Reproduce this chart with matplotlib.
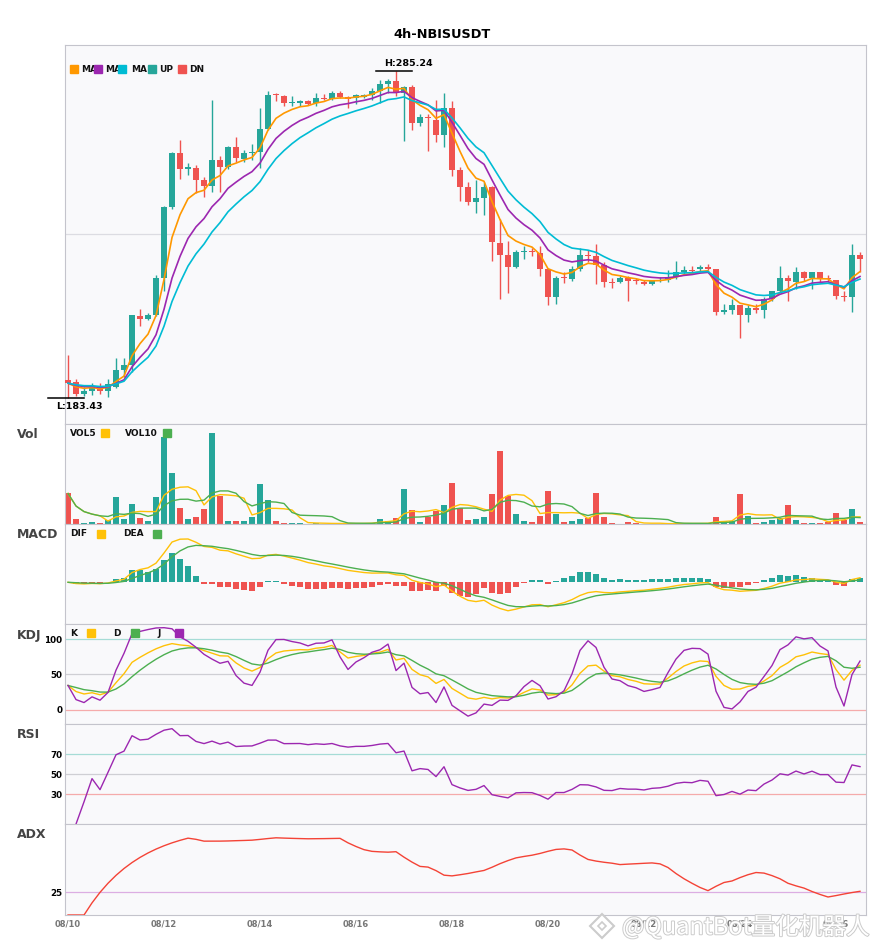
import numpy as np
import pandas as pd
import matplotlib
matplotlib.use('Agg')
import matplotlib.pyplot as plt
from matplotlib.patches import Rectangle
from matplotlib import patheffects

# 4h candles, 08/10 00:00 -> 08/26 12:00
dates = pd.date_range('2025-08-10 00:00', periods=100, freq='4h')

opens = [188.9, 188.3, 184.6, 185.5, 187.1, 185.5, 186.8, 192.1, 193.6, 208.9,
         207.9, 209.2, 220.7, 242.8, 259.6, 254.9, 255.2, 251.2, 249.6, 257.7,
         255.5, 261.7, 258.0, 259.6, 259.9, 267.3, 278.2, 277.6, 275.4, 275.4,
         275.8, 275.4, 277.0, 276.7, 278.5, 277.3, 277.0, 277.3, 277.9, 279.2,
         281.3, 282.3, 278.5, 280.4, 269.2, 271.1, 270.1, 265.2, 273.9, 254.3,
         249.0, 244.6, 245.6, 249.0, 231.6, 227.8, 224.1, 228.8, 229.1, 228.5,
         223.5, 214.8, 221.0, 220.4, 223.5, 227.8, 227.5, 224.7, 219.5, 219.5,
         220.7, 220.1, 219.5, 218.8, 219.8, 220.1, 221.0, 222.6, 223.2, 223.5,
         224.1, 223.5, 210.1, 210.7, 212.3, 209.2, 211.35, 210.7, 214.2, 216.6,
         220.7, 219.5, 222.6, 220.7, 222.6, 220.5, 220.1, 215.1, 214.8, 227.8]
highs = [196.7, 189.3, 186.8, 188.0, 188.0, 189.3, 195.8, 195.8, 209.4, 211.0,
         209.8, 221.6, 243.1, 259.9, 263.9, 256.5, 255.9, 252.1, 276.4, 258.9,
         261.9, 264.6, 260.8, 262.4, 273.6, 278.9, 278.5, 277.8, 277.6, 276.1,
         276.1, 278.5, 278.2, 278.9, 278.9, 277.6, 278.1, 278.0, 280.1, 282.6,
         282.9, 285.24, 280.7, 281.0, 272.0, 272.0, 276.1, 278.5, 275.8, 255.5,
         250.6, 251.2, 250.6, 249.3, 239.3, 232.2, 229.4, 230.6, 230.0, 230.6,
         223.6, 221.3, 222.6, 224.4, 230.0, 229.4, 231.3, 225.7, 220.7, 221.3,
         221.3, 220.7, 220.1, 220.1, 221.0, 223.2, 226.0, 224.4, 224.4, 224.7,
         225.0, 223.6, 212.6, 214.2, 212.4, 212.3, 212.6, 214.8, 216.8, 224.4,
         221.7, 224.1, 222.9, 222.8, 222.8, 221.6, 220.2, 216.6, 231.3, 228.8]
lows = [183.43, 184.0, 184.0, 184.3, 184.6, 183.7, 186.5, 189.9, 191.4, 205.7,
        207.6, 209.0, 216.6, 242.2, 251.5, 253.0, 247.4, 245.9, 247.7, 247.7,
        254.6, 256.8, 256.8, 257.7, 255.2, 267.0, 275.8, 274.5, 274.5, 274.5,
        274.8, 274.5, 276.1, 276.1, 277.0, 273.9, 275.1, 277.0, 276.1, 275.4,
        278.5, 277.6, 263.6, 267.0, 268.3, 260.5, 263.3, 261.7, 252.7, 244.9,
        243.4, 240.9, 240.3, 226.0, 214.2, 216.0, 223.8, 226.6, 227.5, 221.3,
        212.3, 212.6, 219.1, 219.8, 222.9, 225.7, 218.8, 217.9, 217.6, 219.1,
        213.5, 218.8, 218.5, 218.5, 219.5, 219.5, 220.4, 222.0, 222.6, 222.6,
        223.2, 209.2, 209.5, 209.5, 202.0, 207.0, 209.8, 208.2, 213.5, 216.3,
        213.6, 217.3, 219.8, 217.3, 219.5, 219.5, 214.2, 213.5, 210.1, 222.6]
closes = [188.0, 184.6, 185.5, 187.1, 185.5, 187.7, 192.1, 193.6, 209.2, 207.9,
          209.2, 220.7, 242.8, 259.6, 254.6, 255.5, 251.2, 249.6, 257.7, 255.5,
          261.7, 258.3, 259.6, 259.9, 267.3, 277.9, 277.9, 275.4, 275.6, 275.8,
          275.1, 277.0, 276.7, 278.5, 277.3, 276.7, 277.9, 277.9, 279.2, 281.3,
          282.3, 278.5, 280.4, 269.2, 271.1, 270.5, 265.2, 273.9, 254.3, 249.0,
          244.6, 245.6, 249.0, 231.9, 227.8, 224.1, 228.8, 229.1, 228.8, 223.5,
          214.8, 220.7, 220.7, 223.5, 227.8, 227.5, 224.7, 219.5, 219.1, 220.7,
          219.8, 219.8, 218.8, 219.8, 220.1, 221.0, 222.6, 223.2, 222.9, 224.1,
          223.5, 210.1, 210.7, 212.3, 209.2, 211.35, 210.7, 214.2, 216.6, 220.7,
          219.8, 222.6, 220.7, 222.6, 220.4, 220.4, 215.1, 214.8, 227.8, 226.6]
volume = [91, 16, 4, 7, 4, 13, 79, 16, 61, 19,
          10, 79, 259, 151, 49, 16, 22, 46, 271, 83,
          10, 10, 10, 22, 118, 73, 10, 4, 4, 2,
          1, 4, 1, 1, 1, 1, 4, 2, 4, 16,
          10, 19, 103, 43, 7, 22, 40, 58, 121, 49,
          13, 16, 22, 88, 217, 83, 31, 10, 7, 25,
          97, 31, 7, 10, 16, 18, 91, 22, 4, 1,
          7, 2, 1, 1, 1, 1, 1, 4, 1, 1,
          4, 22, 10, 10, 88, 25, 4, 7, 13, 19,
          58, 13, 4, 4, 4, 7, 34, 13, 46, 7]

UP = '#26A69A'
DN = '#EF5350'
C_MA1, C_MA2, C_MA3 = '#FF9800', '#9C27B0', '#00BCD4'
C_Y, C_G, C_P = '#FFC107', '#4CAF50', '#9C27B0'
SPINE = '#c4c4cc'
FACE = '#f9f9fb'

df = pd.DataFrame({'open': opens, 'high': highs, 'low': lows,
                   'close': closes, 'vol': volume}, index=dates)
n = len(df)
x = np.arange(n)
up = (df.close >= df.open).values
cols = np.where(up, UP, DN)

def ema(s, span):
    return s.ewm(span=span, adjust=False).mean()

# ---- indicators
ma1 = ema(df.close, 5)
ma2 = ema(df.close, 9)
ma3 = ema(df.close, 13)

vol5 = df.vol.rolling(5, min_periods=1).mean()
vol10 = df.vol.rolling(10, min_periods=1).mean()

dif = ema(df.close, 5) - ema(df.close, 15)
dea = ema(dif, 5)
hist = 2 * (dif - dea)

llv = df.low.rolling(9, min_periods=1).min()
hhv = df.high.rolling(9, min_periods=1).max()
rsv = (df.close - llv) / (hhv - llv) * 100
k = rsv.ewm(alpha=1/3, adjust=False).mean()
d = k.ewm(alpha=1/3, adjust=False).mean()
j = 3 * k - 2 * d

delta = df.close.diff()
gain = delta.clip(lower=0)
loss = -delta.clip(upper=0)
ag = gain.ewm(alpha=1/14).mean()
al = loss.ewm(alpha=1/14).mean()
rsi = 100 * ag / (ag + al)

upm = df.high.diff()
dnm = -df.low.diff()
pdm = pd.Series(np.where((upm > dnm) & (upm > 0), upm, 0.0), index=df.index)
mdm = pd.Series(np.where((dnm > upm) & (dnm > 0), dnm, 0.0), index=df.index)
pc = df.close.shift(1)
tr = pd.concat([df.high - df.low, (df.high - pc).abs(), (df.low - pc).abs()], axis=1).max(axis=1)
atr = ema(tr, 14)
pdi = 100 * ema(pdm, 14) / atr
mdi = 100 * ema(mdm, 14) / atr
dx = (100 * (pdi - mdi).abs() / (pdi + mdi)).fillna(0)
adx = ema(dx, 14)

# ---- layout (pixel rows of the 885x950 picture)
W, H = 885, 950
fig = plt.figure(figsize=(W / 100, H / 100), dpi=100)
fig.patch.set_facecolor('white')
L, R = 65.3, 866
rows = [(45, 424), (424, 524), (524, 624), (624, 724), (724, 824), (824, 915)]
axes = []
for top, bot in rows:
    ax = fig.add_axes([L / W, 1 - bot / H, (R - L) / W, (bot - top) / H])
    ax.set_facecolor(FACE)
    for s in ax.spines.values():
        s.set_color(SPINE)
        s.set_linewidth(0.8)
    ax.set_xlim(-0.34, 99.75)
    ax.tick_params(length=0, pad=2, labelsize=6.3)
    ax.set_xticks([])
    ax.set_yticks([])
    axes.append(ax)
ax_main, ax_vol, ax_macd, ax_kdj, ax_rsi, ax_adx = axes

# ---- main candles
ax_main.vlines(x, df.low, df.high, colors=cols, lw=1.0, zorder=2)
body = np.maximum((df.close - df.open).abs().values, 0.3)
ax_main.bar(x, body, bottom=np.minimum(df.open, df.close), width=0.7, color=cols, zorder=3)
ax_main.plot(x, ma1, color=C_MA1, lw=1.2, zorder=4)
ax_main.plot(x, ma2, color=C_MA2, lw=1.2, zorder=4)
ax_main.plot(x, ma3, color=C_MA3, lw=1.2, zorder=4)
hi, lo = df.high.max(), df.low.min()
rng = hi - lo
ax_main.set_ylim(lo - 0.08 * rng, hi + 0.08 * rng)
ax_main.axhline((lo + hi) / 2, color='#dcdce2', lw=0.9, zorder=0)
ih, il = int(df.high.values.argmax()), int(df.low.values.argmin())
ax_main.plot([ih - 2.5, ih + 2], [hi, hi], color='black', lw=1.1, clip_on=False, zorder=5)
ax_main.annotate(f'H:{hi:.2f}', xy=(ih - 1.5, hi), xytext=(0, 2), textcoords='offset points',
                 ha='left', va='bottom', fontsize=6.8, fontweight='bold', annotation_clip=False)
ax_main.plot([il - 2.5, il + 2], [lo, lo], color='black', lw=1.1, clip_on=False, zorder=5)
ax_main.annotate(f'L:{lo:.2f}', xy=(il - 1.5, lo), xytext=(0, -3), textcoords='offset points',
                 ha='left', va='top', fontsize=6.8, fontweight='bold', annotation_clip=False)

# ---- volume
ax_vol.bar(x, df.vol, width=0.7, color=cols, zorder=2)
ax_vol.plot(x, vol5, color=C_Y, lw=1.0, zorder=3)
ax_vol.plot(x, vol10, color=C_G, lw=1.0, zorder=3)
ax_vol.set_ylim(0, df.vol.max() * 1.1)

# ---- macd
ax_macd.bar(x, hist, width=0.7, color=np.where(hist >= 0, UP, DN), zorder=2)
ax_macd.plot(x, dif, color=C_Y, lw=1.0, zorder=3)
ax_macd.plot(x, dea, color=C_G, lw=1.0, zorder=3)
M = dif.abs().max()
ax_macd.set_ylim(-0.963 * M, 1.346 * M)

# ---- kdj
for lv, c in [(100, '#a6dcd6'), (50, '#cfcfd4'), (0, '#f5abab')]:
    ax_kdj.axhline(lv, color=c, lw=0.9, zorder=1)
ax_kdj.plot(x, k, color=C_Y, lw=1.0, zorder=3)
ax_kdj.plot(x, d, color=C_G, lw=1.0, zorder=3)
ax_kdj.plot(x, j, color=C_P, lw=1.0, zorder=3)
ax_kdj.set_ylim(-20, 121.4)
ax_kdj.set_yticks([0, 50, 100])

# ---- rsi
for lv, c in [(70, '#a6dcd6'), (50, '#cfcfd4'), (30, '#f5abab')]:
    ax_rsi.axhline(lv, color=c, lw=0.9, zorder=1)
ax_rsi.plot(x, rsi, color=C_P, lw=1.0, zorder=3)
ax_rsi.set_ylim(0, 100)
ax_rsi.set_yticks([30, 50, 70])

# ---- adx
ax_adx.axhline(25, color='#dcaee3', lw=0.9, zorder=1)
ax_adx.plot(x, adx, color='#F44336', lw=1.0, zorder=3)
ax_adx.set_ylim(0, 100)
ax_adx.set_yticks([25])

for ax in (ax_kdj, ax_rsi, ax_adx):
    for t in ax.get_yticklabels():
        t.set_fontweight('bold')

ticks = x[(dates.hour == 0) & (np.arange(n) % 12 == 0)]
ax_adx.set_xticks(ticks)
ax_adx.set_xticklabels(dates[ticks].strftime('%m/%d'), fontsize=6, fontweight='bold', color='#777777')
ax_adx.tick_params(axis='x', pad=3)

# ---- texts and legends (figure pixels)
def ftxt(px, py, s, **kw):
    fig.text(px / W, 1 - py / H, s, **kw)

def fsq(px, py, color, size=8):
    fig.add_artist(Rectangle((px / W, 1 - (py + size / 2) / H), size / W, size / H,
                             transform=fig.transFigure, color=color, zorder=10))

ftxt(442.5, 34, '4h-NBISUSDT', ha='center', va='center', fontsize=9.3, fontweight='bold')

for name, py in [('Vol', 434), ('MACD', 535), ('KDJ', 635), ('RSI', 735), ('ADX', 835)]:
    ftxt(17, py, name, ha='left', va='center', fontsize=9, fontweight='bold', color='#444444')

lg = dict(ha='left', va='center', fontsize=6.5, fontweight='bold', color='#111111')
for tx, label in [(81, 'MA'), (105, 'MA'), (131, 'MA'), (159, 'UP'), (189, 'DN')]:
    ftxt(tx, 69, label, **lg)
for sx, c in [(70, C_MA1), (94, C_MA2), (118, C_MA3), (148, UP), (178, DN)]:
    fsq(sx, 69, c)

ftxt(70, 433, 'VOL5', **lg); fsq(101, 433, C_Y)
ftxt(125, 433, 'VOL10', **lg); fsq(163, 433, C_G)
ftxt(70, 534, 'DIF', **lg); fsq(97, 534, C_Y)
ftxt(123, 534, 'DEA', **lg); fsq(153, 534, C_G)
ftxt(70, 633, 'K', **lg); fsq(87, 633, C_Y)
ftxt(113, 633, 'D', **lg); fsq(131, 633, C_G)
ftxt(157, 633, 'J', **lg); fsq(175, 633, C_P)

# watermark
wm = fig.text(622 / W, 1 - 927 / H, '@QuantBot量化机器人', ha='left', va='center', fontsize=17,
              color='white', family=['Noto Sans CJK SC', 'DejaVu Sans'], zorder=20)
wm.set_path_effects([patheffects.withStroke(linewidth=1.4, foreground='#cccccc')])
fig.add_artist(plt.Line2D([602 / W], [1 - 926 / H], marker='D', markersize=12, mfc='white',
                          mec='#cccccc', mew=1.5, transform=fig.transFigure, zorder=20))
fig.add_artist(plt.Line2D([602 / W], [1 - 926 / H], marker='D', markersize=4, mfc='white',
                          mec='#cccccc', mew=1.2, transform=fig.transFigure, zorder=21))

fig.savefig('out.png', dpi=100)
